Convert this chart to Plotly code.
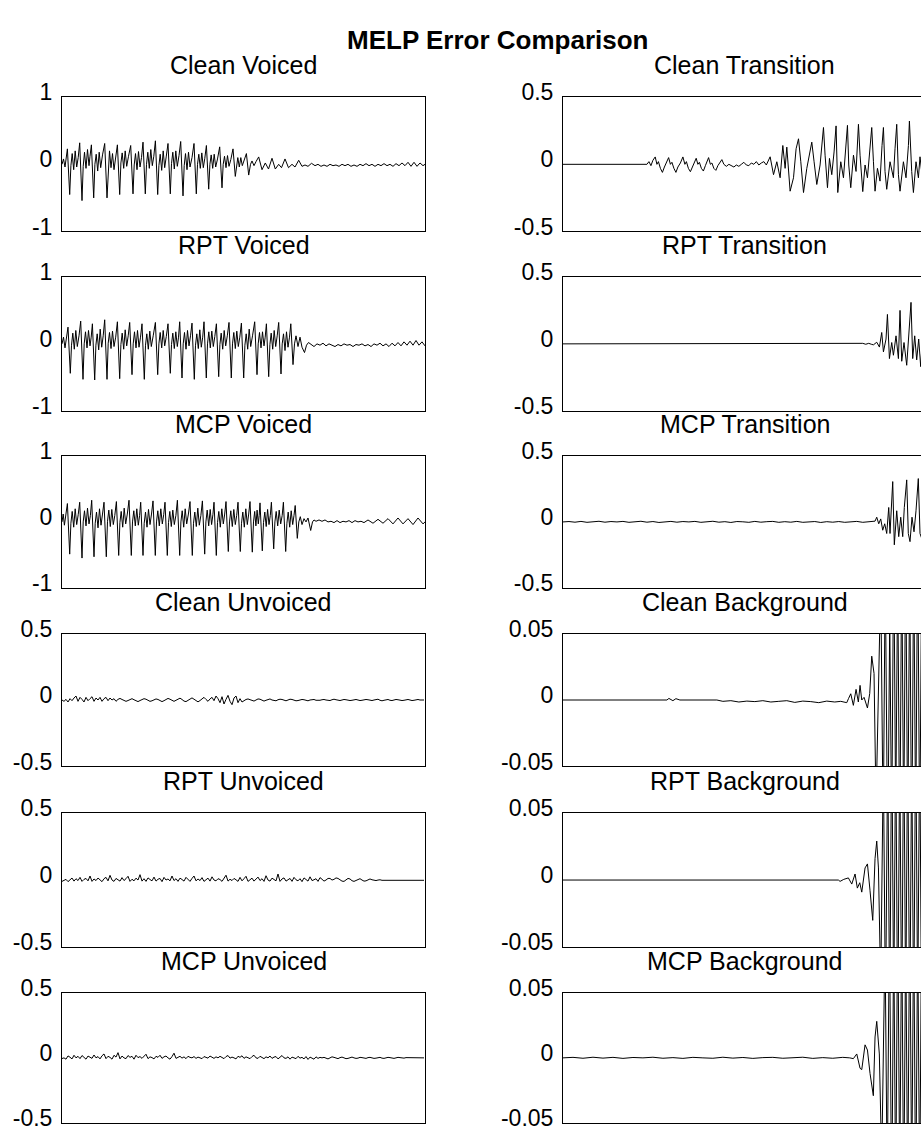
import numpy as np
import plotly.graph_objects as go

# ---------------- data (sample position, amplitude) ----------------
CLEAN_VOICED = [
(0,0.0),(1.5,0.08),(3,-0.04),(4.2,0.1),(5.4,0.23),
(7.7,-0.45),(8.9,-0.02),(10.2,0.16),(11.7,-0.08),(13.2,0.2),(14.7,-0.04),(16.2,0.1),(17.7,0.32),
(20,-0.54),(21.2,-0.03),(22.5,0.18),(24,-0.06),(25.5,0.22),(27,-0.02),(28,0.12),(29.4,0.29),
(31.7,-0.5),(32.9,0.0),(34.2,0.15),(35.7,-0.1),(37.2,0.18),(38.7,-0.05),(40.5,0.14),(42.7,0.31),
(45,-0.5),(46.2,-0.02),(47.5,0.2),(49,-0.05),(50.5,0.16),(52,-0.08),(53.5,0.1),(55.4,0.29),
(57.7,-0.45),(58.9,0.02),(60.2,0.17),(61.7,-0.06),(63.2,0.2),(64.7,-0.03),(66.5,0.12),(68.7,0.28),
(71,-0.44),(72.2,-0.01),(73.5,0.16),(75,-0.08),(76.5,0.19),(78,-0.04),(79.5,0.1),(81,0.33),
(83.3,-0.44),(84.5,0.0),(85.8,0.18),(87.3,-0.06),(88.8,0.22),(90.3,-0.02),(91.8,0.12),(93.4,0.35),
(95.7,-0.45),(96.9,-0.02),(98.2,0.15),(99.7,-0.09),(101.2,0.2),(102.7,-0.05),(104.2,0.11),(106,0.31),
(108.3,-0.44),(109.5,0.01),(110.8,0.18),(112.3,-0.07),(113.8,0.2),(115.3,-0.03),(117,0.13),(118.7,0.34),
(121,-0.47),(122.2,-0.02),(123.5,0.16),(125,-0.08),(126.5,0.18),(128,-0.04),(130,0.1),(132,0.31),
(134.3,-0.44),(135.5,0.0),(136.8,0.15),(138.3,-0.06),(139.8,0.17),(141.3,-0.05),(142.8,0.09),(144.4,0.28),
(146.7,-0.37),(147.9,0.0),(149.2,0.14),(150.7,-0.06),(152.2,0.15),(153.7,-0.04),(155.5,0.08),(157.7,0.26),
(160,-0.35),(161.2,0.0),(162.5,0.12),(164,-0.05),(165.5,0.13),(167,-0.03),(168.8,0.07),(171,0.23),
(173.3,-0.18),(174.5,0.0),(175.8,0.1),(177.3,-0.04),(178.8,0.1),(180.3,-0.02),(182,0.05),(184.4,0.16),
(186.7,-0.16),(188.5,0.0),(190,0.05),(192,-0.02),(194,0.04),(196.7,0.11),(200,-0.08),(203.3,0.02),
(206.5,-0.07),(210,0.09),(213.3,-0.07),(216.7,0.0),(219.5,-0.05),(223,0.08),(226.5,-0.05),(230,0.0),
(233,-0.04),(236.7,0.06),(240,-0.03),(243,-0.01),(246,-0.03),(249.5,0.015),(253,-0.02),
(256,0.0),(259,-0.03),(262,-0.01),(265,-0.03),(268,0.0),(271,-0.02),(274,-0.01),(277,-0.03),(280,0.0),
(283,-0.02),(286,0.0),(289,-0.03),(292,-0.01),(295,-0.03),(298,0.0),(301,-0.02),(304,0.01),(307,-0.02),
(310,0.0),(313,-0.03),(316,0.0),(319,-0.02),(322,0.01),(325,-0.02),(328,0.0),(331,-0.03),(334,0.01),
(337,-0.02),(340,0.02),(343,-0.02),(346,0.03),(349,-0.03),(352,0.03),(355,-0.03),(358,0.02),(361,-0.02),(363,0.0)]

RPT_VOICED = [
(0,0.0),(1.5,0.1),(3,-0.06),(4.5,0.14),(6,0.25),
(8.3,-0.44),(9.5,-0.02),(10.8,0.16),(12.3,-0.08),(13.8,0.2),(15.3,-0.04),(17,0.12),(18.7,0.34),
(21,-0.53),(22.2,0.0),(23.5,0.18),(25,-0.06),(26.5,0.2),(28,-0.03),(29.2,0.1),(30.4,0.3),
(32.7,-0.54),(33.9,-0.02),(35.2,0.15),(36.7,-0.09),(38.2,0.22),(39.7,-0.05),(41.2,0.12),(42.7,0.36),
(45,-0.53),(46.2,0.01),(47.5,0.17),(49,-0.07),(50.5,0.19),(52,-0.04),(53.7,0.1),(55.4,0.33),
(57.7,-0.52),(58.9,-0.01),(60.2,0.16),(61.7,-0.08),(63.2,0.21),(64.7,-0.03),(66.2,0.12),(67.7,0.32),
(70,-0.46),(71.2,0.0),(72.5,0.18),(74,-0.06),(75.5,0.2),(77,-0.05),(78.5,0.1),(80,0.3),
(82.3,-0.53),(83.5,-0.02),(84.8,0.15),(86.3,-0.08),(87.8,0.19),(89.3,-0.04),(91.2,0.12),(93.4,0.32),
(95.7,-0.46),(96.9,0.0),(98.2,0.17),(99.7,-0.06),(101.2,0.2),(102.7,-0.03),(104.3,0.11),(106,0.3),
(108.3,-0.44),(109.5,-0.01),(110.8,0.16),(112.3,-0.07),(113.8,0.18),(115.3,-0.04),(116.5,0.1),(117.7,0.33),
(120,-0.51),(121.2,0.0),(122.5,0.17),(124,-0.08),(125.5,0.2),(127,-0.03),(128.5,0.12),(130,0.31),
(132.3,-0.53),(133.5,-0.02),(134.8,0.15),(136.3,-0.07),(137.8,0.21),(139.3,-0.05),(140.7,0.1),(142,0.33),
(144.3,-0.51),(145.5,0.0),(146.8,0.18),(148.3,-0.06),(149.8,0.19),(151.3,-0.04),(152.8,0.11),(154.4,0.3),
(156.7,-0.49),(157.9,-0.01),(159.2,0.16),(160.7,-0.08),(162.2,0.2),(163.7,-0.03),(165.3,0.12),(167,0.32),
(169.3,-0.51),(170.5,0.0),(171.8,0.17),(173.3,-0.07),(174.8,0.19),(176.3,-0.04),(177.8,0.1),(179.4,0.31),
(181.7,-0.51),(182.9,-0.02),(184.2,0.15),(185.7,-0.08),(187.2,0.22),(188.7,-0.04),(190.5,0.12),(192.7,0.33),
(195,-0.46),(196.2,0.0),(197.5,0.17),(199,-0.06),(200.5,0.18),(202,-0.03),(203.2,0.1),(204.4,0.3),
(206.7,-0.49),(207.9,-0.01),(209.2,0.16),(210.7,-0.08),(212.2,0.2),(213.7,-0.04),(215.2,0.12),(216.7,0.32),
(219,-0.45),(220.2,0.0),(221.5,0.15),(223,-0.1),(224.5,0.18),(226,-0.05),(227.5,0.1),(228.8,0.3),
(231,-0.31),(232.5,0.0),(234,0.12),(236,-0.04),(238,0.1),(240,-0.05),(242.5,-0.13),(244.5,-0.02),
(246.5,0.02),(249,-0.01),(252,-0.04),(255,0.0),(258,-0.02),(261,0.01),(264,-0.03),(267,0.0),(270,-0.02),
(273,-0.04),(276,-0.01),(279,-0.03),(282,0.0),(285,-0.02),(288,-0.01),(291,-0.04),(294,-0.01),(297,-0.02),
(300,0.0),(303,-0.03),(306,-0.01),(309,-0.04),(312,0.0),(315,-0.02),(318,0.01),(321,-0.03),(324,0.0),
(327,-0.04),(330,0.01),(333,-0.03),(336,0.02),(339,-0.03),(342,0.03),(345,-0.02),(348,0.04),(351,-0.02),
(354,0.05),(357,-0.02),(360,0.03),(363,-0.03)]

MCP_VOICED = [
(0,0.0),(1.2,0.12),(2.4,-0.05),(3.8,0.15),(5.4,0.28),
(7.7,-0.49),(8.9,-0.02),(10.2,0.16),(11.7,-0.08),(13.2,0.2),(14.7,-0.04),(16.2,0.11),(17.7,0.3),
(20,-0.55),(21.2,0.0),(22.5,0.17),(24,-0.06),(25.5,0.21),(27,-0.03),(28.4,0.1),(29.7,0.33),
(32,-0.53),(33.2,-0.02),(34.5,0.15),(36,-0.09),(37.5,0.2),(39,-0.05),(40.5,0.12),(42,0.3),
(44.3,-0.53),(45.5,0.01),(46.8,0.18),(48.3,-0.07),(49.8,0.19),(51.3,-0.04),(52.8,0.1),(54.4,0.31),
(56.7,-0.51),(57.9,-0.01),(59.2,0.16),(60.7,-0.08),(62.2,0.21),(63.7,-0.03),(65.3,0.12),(67,0.33),
(69.3,-0.51),(70.5,0.0),(71.8,0.17),(73.3,-0.06),(74.8,0.2),(76.3,-0.05),(77.6,0.1),(78.7,0.3),
(81,-0.51),(82.2,-0.02),(83.5,0.15),(85,-0.08),(86.5,0.19),(88,-0.04),(89.5,0.12),(91,0.32),
(93.3,-0.51),(94.5,0.0),(95.8,0.17),(97.3,-0.06),(98.8,0.2),(100.3,-0.03),(101.7,0.11),(103,0.3),
(105.3,-0.51),(106.5,-0.01),(107.8,0.16),(109.3,-0.07),(110.8,0.18),(112.3,-0.04),(113.9,0.1),(115.4,0.33),
(117.7,-0.51),(118.9,0.0),(120.2,0.17),(121.7,-0.08),(123.2,0.2),(124.7,-0.03),(126.4,0.12),(128,0.31),
(130.3,-0.51),(131.5,-0.02),(132.8,0.15),(134.3,-0.07),(135.8,0.21),(137.3,-0.05),(138.9,0.1),(140.4,0.32),
(142.7,-0.49),(143.9,0.0),(145.2,0.18),(146.7,-0.06),(148.2,0.19),(149.6,-0.04),(150.9,0.11),(152,0.3),
(154.3,-0.51),(155.5,-0.01),(156.8,0.16),(158.3,-0.08),(159.8,0.2),(161.3,-0.03),(162.7,0.12),(164,0.31),
(166.3,-0.45),(167.5,0.0),(168.8,0.17),(170.3,-0.07),(171.8,0.19),(173.3,-0.04),(174.7,0.1),(176,0.3),
(178.3,-0.45),(179.5,-0.02),(180.8,0.15),(182.3,-0.08),(183.8,0.2),(185.3,-0.04),(186.7,0.12),(188,0.31),
(190.3,-0.46),(191.5,0.0),(192.7,0.16),(193.9,-0.06),(195.1,0.18),(196.3,-0.03),(197.2,0.1),(198,0.29),
(200.3,-0.44),(201.5,-0.01),(202.8,0.15),(204.2,-0.07),(205.6,0.19),(207,-0.04),(208.3,0.1),(209.4,0.3),
(211.7,-0.41),(212.9,0.0),(214.2,0.16),(215.7,-0.06),(217.2,0.18),(218.7,-0.03),(220.2,0.1),(221.4,0.3),
(223.7,-0.45),(224.9,-0.02),(226.2,0.15),(227.7,-0.08),(229.2,0.17),(230.7,-0.04),(232,0.1),(233.2,0.25),
(235.3,-0.25),(236.8,0.0),(238.3,0.08),(240,-0.04),(242,0.05),(244,0.0),(246,0.06),(248.7,-0.13),
(250.5,0.0),(252,0.03),(254,0.01),(257,0.03),(260,0.01),(263,0.03),(266,0.0),(269,0.01),(272,-0.01),
(275,0.02),(278,-0.01),(281,0.01),(284,0.0),(287,0.02),(290,-0.01),(293,0.02),(296,0.0),(299,0.01),
(302,-0.01),(306,0.03),(311,-0.02),(316,0.04),(321,-0.02),(326,0.05),(331,-0.03),(336,0.06),(341,-0.03),
(346,0.05),(351,-0.04),(356,0.06),(361,-0.03),(363,0.0)]

UNVOICED_STEP = 2
CLEAN_UNVOICED = [
0.0,-0.01,0.005,-0.015,0.01,-0.005,0.015,0.03,-0.01,0.02,0.005,-0.015,0.02,-0.005,0.01,0.025,-0.01,0.015,0.0,0.02,
-0.01,0.01,0.02,-0.005,0.015,0.0,0.01,-0.01,
0.005,0.012,0.004,-0.006,-0.01,-0.004,0.006,0.01,0.002,-0.008,-0.012,-0.004,0.004,0.01,0.006,-0.004,-0.01,-0.006,
0.002,0.008,0.004,-0.006,-0.012,-0.005,0.005,0.012,0.006,-0.004,-0.01,-0.002,0.008,0.014,0.004,-0.008,-0.012,-0.002,
0.01,0.016,0.006,-0.006,-0.014,-0.004,0.012,0.02,0.004,-0.01,0.008,0.02,
-0.005,0.03,0.01,-0.02,0.025,-0.03,0.005,0.035,-0.01,-0.035,0.015,0.03,-0.02,0.01,-0.015,
-0.004,0.004,0.008,0.002,-0.006,-0.008,0.0,0.008,0.006,-0.004,-0.008,-0.002,0.006,0.008,0.0,-0.006,-0.006,0.002,
0.006,0.004,-0.004,-0.006,0.0,0.006,0.004,-0.002,-0.006,-0.004,0.002,0.004,0.002,-0.004,-0.006,0.0,0.004,0.004,
-0.002,-0.004,-0.002,0.002,0.004,0.0,-0.004,-0.004,0.002,0.006,0.002,-0.004,-0.004,0.0,0.004,0.002,-0.002,-0.004,
-0.002,0.002,0.004,0.0,-0.004,-0.002,0.002,0.004,0.002,-0.002,-0.004,0.0,0.004,0.006,-0.002,-0.006,-0.002,0.004,
0.004,-0.002,-0.004,0.0,0.004,0.002,-0.002,-0.004,-0.002,0.002,0.004,0.0,-0.004,-0.002,0.002,0.004,0.0,-0.002,0.0]

RPT_UNVOICED = [
-0.01,-0.005,0.005,-0.012,0.0,0.015,-0.008,0.01,-0.004,0.02,-0.01,0.005,0.012,-0.006,0.03,-0.01,0.008,-0.004,0.015,0.0,
-0.012,0.01,0.02,-0.006,0.035,0.0,-0.01,0.012,0.004,-0.008,0.018,-0.004,0.01,0.028,-0.01,0.006,-0.006,0.014,0.0,0.04,
-0.008,0.01,-0.01,0.016,0.004,-0.006,0.022,-0.008,0.006,0.012,-0.012,0.02,0.0,0.008,-0.006,0.03,-0.004,0.01,-0.01,0.014,
0.004,-0.008,0.02,0.002,-0.01,0.012,0.03,-0.006,0.008,-0.004,0.018,-0.01,0.006,0.014,-0.008,0.024,0.0,-0.006,0.01,0.004,
-0.01,0.016,0.036,-0.008,0.006,-0.004,0.012,0.002,-0.01,0.02,-0.006,0.01,0.028,-0.01,0.004,0.014,-0.008,0.006,0.022,-0.004,
0.01,-0.01,0.032,0.0,-0.008,0.014,0.004,-0.006,0.045,-0.01,0.008,0.016,-0.008,0.004,0.012,-0.01,0.02,0.002,-0.006,0.01,
-0.012,0.016,0.004,-0.008,0.024,-0.004,0.002,0.01,-0.01,0.018,0.006,-0.008,0.0,0.012,0.012,0.0,
0.005,0.016,0.012,0.0,-0.008,-0.01,0.0,0.012,0.008,-0.005,-0.01,-0.002,0.008,0.01,0.0,-0.008,-0.006,0.004,0.008,0.002,
-0.004,-0.004,0.0,0.002,
-0.002,-0.002,-0.002,-0.002,-0.002,-0.002,-0.002,-0.002,-0.002,-0.002,-0.002,-0.002,-0.002,-0.002,-0.002,-0.002,
-0.002,-0.002,-0.002,-0.002,-0.002,-0.002]

MCP_UNVOICED = [
-0.005,0.0,-0.01,0.015,0.005,-0.008,0.02,0.0,0.012,-0.006,0.018,0.004,-0.01,0.014,0.008,-0.004,0.022,0.0,0.01,-0.008,
0.016,0.03,-0.006,0.012,0.004,-0.01,0.02,0.006,0.04,-0.008,0.014,0.0,-0.006,0.018,0.004,0.012,-0.01,0.02,0.002,0.01,
-0.004,0.016,0.028,-0.006,0.008,0.002,-0.008,0.012,0.004,0.02,-0.004,0.008,0.014,0.0,-0.01,0.01,0.036,-0.004,0.006,0.012,
-0.002,0.008,-0.006,0.012,0.004,0.0,0.01,-0.004,0.006,0.002,-0.006,0.01,0.004,-0.002,0.014,0.006,-0.004,0.008,0.0,0.012,
0.004,-0.006,0.01,0.018,-0.002,0.006,0.0,-0.008,0.012,0.004,0.016,-0.004,0.008,0.002,-0.006,0.01,0.02,0.0,-0.004,0.012,
0.004,-0.006,0.008,0.0,0.014,-0.004,0.006,0.01,-0.008,0.004,0.018,0.0,-0.004,0.008,-0.01,0.006,0.002,-0.006,0.012,-0.002,
0.004,-0.008,0.01,-0.012,0.006,0.0,-0.01,0.008,-0.004,0.004,0.0,
0.004,-0.004,-0.008,0.0,0.008,0.004,-0.004,-0.006,0.002,0.006,0.0,-0.006,-0.004,0.004,0.006,0.0,-0.004,-0.002,0.004,0.002,
-0.004,-0.004,0.002,0.004,0.0,-0.004,-0.002,0.004,0.004,-0.002,-0.004,0.0,0.004,0.002,-0.002,-0.004,0.0,0.004,0.002,-0.002,
-0.002,0.002,0.002,-0.002,-0.002,0.0,0.002,0.0,-0.002,0.0,0.0]

CLEAN_TRANSITION = [
(0,0.0),(82,0.0),(84,0.0),(86,0.02),(88,-0.01),(90,0.03),(92.3,0.055),(94,0.0),(95.5,0.02),(97.5,-0.03),
(99.5,-0.06),(101.5,-0.02),(103.5,0.02),(105.7,0.05),(107.5,0.0),(109,0.015),(111,-0.03),(113,-0.06),
(115,-0.02),(117.5,0.01),(120,0.055),(122,0.0),(123.5,0.02),(125.5,-0.03),(127.5,-0.055),(129.5,-0.02),
(131.3,0.01),(133.3,0.045),(135,0.0),(136.5,0.015),(138.5,-0.03),(140.5,-0.05),(142.5,-0.01),(144,0.02),
(145.7,0.05),(147.5,0.0),(149,0.01),(151,-0.03),(153,-0.045),(155,-0.01),(157,0.01),(159,0.035),(161,0.0),
(163.5,-0.015),(166,0.0),(168.5,-0.01),(171,-0.02),(173.5,-0.005),(176,-0.015),(178.5,0.0),(181,0.015),
(183.5,-0.005),(186,-0.01),(188.5,0.01),(191,0.0),(193.5,0.02),(196,-0.005),(198.5,0.01),(201,0.02),
(203.5,-0.005),(205.5,0.03),
(207.3,0.056),(210.7,-0.077),(214,0.019),(217.3,-0.1),(220,0.14),(222.3,-0.03),(224,0.128),(227.3,-0.2),
(230.7,-0.1),(233.3,0.116),(235.7,0.19),(238,0.019),(240.7,-0.21),(244,-0.03),(246.7,0.092),(249,0.165),
(251.3,0.019),(254,-0.15),(257.3,-0.005),(260.7,0.274),(262.3,0.068),(264.7,-0.174),(266.7,0.044),
(269,-0.077),(271.3,0.092),(273.3,0.286),(275,-0.21),(278,0.019),(280.7,-0.1),(282.7,0.14),(284.7,0.29),
(286,-0.005),(288,-0.174),(290.7,0.068),(293.3,-0.053),(295.7,0.298),(297.3,0.068),(300,-0.203),
(302.3,-0.005),(304.7,-0.1),(307.3,0.116),(309,0.274),(310.7,0.019),(312.3,-0.2),(314.7,-0.03),
(317.3,-0.125),(319.3,0.14),(320.7,0.274),(322.3,-0.053),(324,-0.186),(327.3,0.019),(330.7,-0.1),
(332.3,0.116),(334,0.298),(335.7,-0.077),(337.3,-0.2),(340.7,0.019),(343.3,-0.1),(345.7,0.14),
(346.7,0.322),(349,-0.053),(350.7,-0.21),(353.3,0.019),(355.7,-0.1),(357.3,0.056),(359,-0.053)]

RPT_TRANSITION = [
(0,0.0),(297,0.0),(300,0.004),(303,-0.003),(306,0.004),(309,-0.004),(310.7,-0.007),(314,0.012),
(316.7,-0.024),(319,0.085),(320.7,-0.06),(323.3,0.036),(324.7,0.22),(326.7,-0.11),(329,0.01),
(330.7,-0.085),(333.3,0.06),(335.7,-0.11),(337.3,0.25),(339,-0.13),(341.3,0.01),(344,-0.16),
(345.7,0.06),(348.3,0.31),(350,-0.11),(352,0.06),(354,-0.12),(356,0.036),(358,-0.17),(359.3,-0.01)]

MCP_TRANSITION = [
(0,0.0),(6,0.003),(12,-0.002),(18,0.004),(24,-0.003),(30,0.002),(36,0.005),(42,-0.002),(48,0.003),
(54,0.0),(60,0.004),(66,-0.003),(72,0.002),(78,0.005),(84,-0.002),(90,0.003),(96,-0.004),(102,0.002),
(108,0.004),(114,-0.002),(120,0.003),(126,0.0),(132,0.004),(138,-0.003),(144,0.002),(150,0.005),
(156,-0.002),(162,0.002),(168,-0.004),(174,0.003),(180,0.001),(186,-0.003),(192,0.004),(198,-0.002),
(204,0.002),(210,0.004),(216,-0.003),(222,0.002),(228,-0.002),(234,0.004),(240,-0.003),(246,0.002),
(252,0.003),(258,-0.004),(264,0.002),(270,-0.002),(276,0.003),(282,-0.003),(288,0.002),(294,0.004),
(300,-0.003),(306,0.002),(310,0.0),
(312.3,0.006),(314,0.036),(316,-0.014),(318,0.023),(320,-0.063),(322,-0.014),(324,-0.088),(326,0.11),
(327.3,-0.088),(330,0.307),(331.6,-0.174),(334,0.085),(336,-0.112),(338,0.036),(340,-0.112),(341.6,0.11),
(344,0.32),(345.6,-0.088),(347.3,-0.15),(349.3,0.036),(351.3,-0.075),(353.3,0.085),(355.6,0.33),
(357.3,-0.088),(359,-0.125)]

CLEAN_BACKGROUND = [
(0,0.0),(104,0.0),(106,0.0012),(110,-0.0005),(113,0.001),(117,0.0),(154,0.0),(160,-0.001),(168,-0.0005),
(176,-0.0015),(184,-0.0008),(192,-0.0012),(200,-0.0005),(208,-0.0015),(216,-0.001),(224,-0.0005),
(232,-0.0018),(240,-0.0008),(248,-0.0012),(256,-0.002),(264,-0.0008),(272,-0.0015),(278,-0.001),
(284,-0.002),(285.7,0.001),(288,0.0047),(290.6,-0.004),(293.3,0.008),(295.6,-0.0015),(297.3,0.011),
(299,0.0),(301.3,0.002),(304.7,-0.006),(307,0.005),(309,0.033),(311.3,0.02),(313.3,-0.08),(316,0.02),
(318,0.09),(320.5,-0.1),(322.5,0.1),(325,-0.12),(327,0.06),(329,-0.1),(331,0.12),(333,-0.09),(335,0.1),
(337,-0.12),(339,0.11),(341,-0.1),(343,0.12),(345,-0.11),(347,0.1),(349,-0.12),(351,0.11),(353,-0.1),
(355,0.12),(357,-0.11),(359,0.1)]

RPT_BACKGROUND = [
(0,0.0),(275.6,0.0),(277.3,-0.001),(281,0.0005),(285.6,0.0016),(289,-0.003),(292.3,0.0045),
(294.6,-0.006),(297,-0.002),(299,-0.009),(302.3,0.009),(304.7,0.012),(307.3,-0.008),(310,-0.03),
(312.3,0.016),(314,0.029),(315.7,0.009),(318,-0.08),(320.6,0.09),(322.8,-0.1),(325,0.1),(327,-0.11),
(329,0.12),(331,-0.1),(333,0.11),(335,-0.12),(337,0.1),(339,-0.11),(341,0.12),(343,-0.1),(345,0.11),
(347,-0.12),(349,0.1),(351,-0.11),(353,0.12),(355,-0.1),(357,0.11),(359,-0.12)]

MCP_BACKGROUND = [
(0,0.0),(10,0.0004),(20,-0.0003),(30,0.0005),(40,-0.0002),(50,0.0004),(60,-0.0004),(70,0.0003),
(80,0.0),(90,0.0005),(100,-0.0003),(110,0.0002),(120,-0.0004),(130,0.0004),(140,0.0),(150,-0.0003),
(160,0.0005),(170,-0.0002),(180,0.0003),(190,-0.0004),(200,0.0002),(210,0.0004),(220,-0.0003),
(230,0.0),(240,0.0005),(250,-0.0004),(260,0.0002),(270,-0.0003),(280,0.0004),(287,0.0),
(290.6,-0.0006),(294,0.003),(297.3,-0.008),(299,-0.009),(302.3,0.01),(304.7,0.006),(307.3,-0.012),
(310.6,-0.029),(312.3,0.016),(314,0.028),(316.6,0.003),(319,-0.08),(322.3,0.09),(324.5,-0.1),
(326.7,0.11),(329,-0.12),(331,0.1),(333,-0.11),(335,0.12),(337,-0.1),(339,0.11),(341,-0.12),(343,0.1),
(345,-0.11),(347,0.12),(349,-0.1),(351,0.11),(353,-0.12),(355,0.1),(357,-0.11),(359,0.12)]

TITLES_LEFT = ["Clean Voiced", "RPT Voiced", "MCP Voiced", "Clean Unvoiced", "RPT Unvoiced", "MCP Unvoiced"]
TITLES_RIGHT = ["Clean Transition", "RPT Transition", "MCP Transition",
                "Clean Background", "RPT Background", "MCP Background"]
LIMITS_LEFT = [1, 1, 1, 0.5, 0.5, 0.5]
LIMITS_RIGHT = [0.5, 0.5, 0.5, 0.05, 0.05, 0.05]
TICKS_LEFT = [["-1", "0", "1"]] * 3 + [["-0.5", "0", "0.5"]] * 3
TICKS_RIGHT = [["-0.5", "0", "0.5"]] * 3 + [["-0.05", "0", "0.05"]] * 3
MAIN_TITLE = "MELP Error Comparison"


def pairs(p):
    return [a for a, _ in p], [b for _, b in p]


def uniform(v):
    return list(np.arange(len(v)) * UNVOICED_STEP), v


SERIES_LEFT = [pairs(CLEAN_VOICED), pairs(RPT_VOICED), pairs(MCP_VOICED),
               uniform(CLEAN_UNVOICED), uniform(RPT_UNVOICED), uniform(MCP_UNVOICED)]
SERIES_RIGHT = [pairs(CLEAN_TRANSITION), pairs(RPT_TRANSITION), pairs(MCP_TRANSITION),
                pairs(CLEAN_BACKGROUND), pairs(RPT_BACKGROUND), pairs(MCP_BACKGROUND)]

# ---------------- layout geometry (pixels) ----------------
W, H = 921, 1135
ROW_TOP = [81, 265, 448.5, 630, 813.5, 997.5]
ROW_BOT = [218.5, 402, 583, 766, 951, 1131]
COLS = [(62, 425, 363), (563, 921, 358.3)]
FONT = "Liberation Sans, Arial, sans-serif"

fig = go.Figure()
layout = dict(width=W, height=H, margin=dict(l=0, r=0, t=0, b=0), autosize=False,
              paper_bgcolor="white", plot_bgcolor="white", showlegend=False,
              font=dict(family=FONT, color="black"))
annotations = []

k = 0
for c, (titles, lims, ticks, series) in enumerate([
        (TITLES_LEFT, LIMITS_LEFT, TICKS_LEFT, SERIES_LEFT),
        (TITLES_RIGHT, LIMITS_RIGHT, TICKS_RIGHT, SERIES_RIGHT)]):
    x0, x1, xmax = COLS[c]
    for r in range(6):
        k += 1
        sx = "" if k == 1 else str(k)
        t, y = series[r]
        fig.add_trace(go.Scatter(x=t, y=y, mode="lines", line=dict(color="black", width=1),
                                 xaxis="x" + sx, yaxis="y" + sx, hoverinfo="skip"))
        lim = lims[r]
        layout["xaxis" + sx] = dict(domain=[x0 / W, x1 / W], range=[0, xmax], anchor="y" + sx,
                                    showticklabels=False, showgrid=False, zeroline=False,
                                    showline=True, linecolor="black", linewidth=1, mirror=True,
                                    ticks="", fixedrange=True)
        layout["yaxis" + sx] = dict(domain=[1 - ROW_BOT[r] / H, 1 - ROW_TOP[r] / H],
                                    range=[-lim, lim], anchor="x" + sx,
                                    tickvals=[-lim, 0, lim], ticktext=ticks[r],
                                    tickfont=dict(family=FONT, size=23, color="black"),
                                    showgrid=False, zeroline=False, showline=True,
                                    linecolor="black", linewidth=1, mirror=(c == 0),
                                    ticks="", ticklabelstandoff=4, ticklabelshift=-5,
                                    fixedrange=True)
        annotations.append(dict(text=titles[r], xref="paper", yref="paper",
                                x=(x0 + (x1 if c == 0 else x0 + 363)) / 2 / W,
                                y=1 - (ROW_TOP[r] - 32.7) / H,
                                xanchor="center", yanchor="middle", showarrow=False,
                                font=dict(family=FONT, size=25, color="black")))

annotations.append(dict(text="<b>" + MAIN_TITLE + "</b>", xref="paper", yref="paper",
                        x=497.5 / W, y=1 - 22.5 / H, xanchor="center", yanchor="middle",
                        showarrow=False, font=dict(family=FONT, size=26, color="black")))
layout["annotations"] = annotations
fig.update_layout(**layout)
fig.write_html("out.html")
